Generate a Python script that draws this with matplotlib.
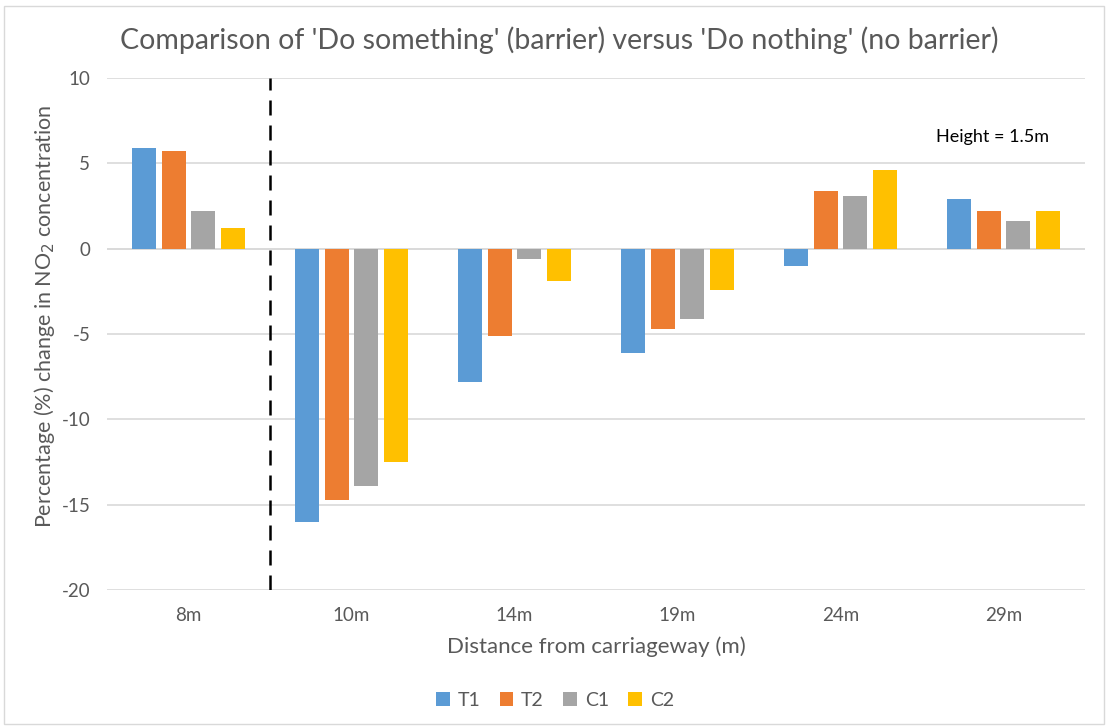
import matplotlib
matplotlib.use("Agg")
import matplotlib.pyplot as plt
import numpy as np
from matplotlib.patches import Rectangle

categories = ["8m", "10m", "14m", "19m", "24m", "29m"]
series_names = ["T1", "T2", "C1", "C2"]
T1 = [5.9, -16.0, -7.8, -6.1, -1.0, 2.9]
T2 = [5.7, -14.7, -5.1, -4.7, 3.4, 2.2]
C1 = [2.2, -13.9, -0.6, -4.1, 3.1, 1.6]
C2 = [1.2, -12.5, -1.9, -2.4, 4.6, 2.2]
colors = ["#5B9BD5", "#ED7D31", "#A5A5A5", "#FFC000"]
yticks = [-20, -15, -10, -5, 0, 5, 10]

font = ["Lato", "DejaVu Sans"]
plt.rcParams['font.family'] = font
plt.rcParams['axes.unicode_minus'] = False
txt = "#595959"

fig = plt.figure(figsize=(11.08, 7.26), dpi=100)
ax = fig.add_axes([107/1108, 1-590/726, (1085-107)/1108, (590-78)/726])

x = np.arange(len(categories))
pitch = 0.181
width = 0.147
for i, (name, vals, c) in enumerate(zip(series_names, [T1, T2, C1, C2], colors)):
    ax.bar(x + (i - 1.5) * pitch, vals, width, color=c, label=name, zorder=3)

ax.set_xlim(-0.5, len(categories) - 0.5)
ax.set_ylim(-20, 10)
ax.set_yticks(yticks)
ax.set_xticks(x)
ax.set_xticklabels(categories)
ax.grid(axis='y', color="#d9d9d9", linewidth=1.2, zorder=0)
ax.axhline(0, color="#d9d9d9", linewidth=1.2, zorder=1)
for s in ax.spines.values():
    s.set_visible(False)
ax.tick_params(length=0, colors=txt, labelsize=13.5, pad=12)
ax.tick_params(axis='y', pad=12)

ax.axvline(0.5, color="black", linestyle=(0, (6, 4)), linewidth=1.8, zorder=4)

ax.set_xlabel("Distance from carriageway (m)", fontsize=16, color=txt, labelpad=9)
ax.set_ylabel("Percentage (%) change in NO$_2$ concentration", fontsize=15.5, color=txt)
ax.yaxis.set_label_coords(-0.051, 0.535)
ax.text(0.905, 0.885, "Height = 1.5m", transform=ax.transAxes, fontsize=13,
        color="black", ha="center", va="center")

fig.text(0.505, 1 - 40/726, "Comparison of 'Do something' (barrier) versus 'Do nothing' (no barrier)",
         ha="center", va="center", fontsize=20.5, color=txt)

leg = fig.legend(loc="center", bbox_to_anchor=(555/1108, 1 - 700/726), ncol=4, frameon=False,
                 fontsize=14, handlelength=0.7, handleheight=0.7, handletextpad=0.4,
                 columnspacing=1.0)
for t in leg.get_texts():
    t.set_color(txt)

fig.patches.append(Rectangle((4/1108, 2/726), 1100/1108, 718/726, transform=fig.transFigure,
                             fill=False, edgecolor="#d9d9d9", linewidth=1))

fig.savefig("out.png", dpi=100, facecolor="white")
